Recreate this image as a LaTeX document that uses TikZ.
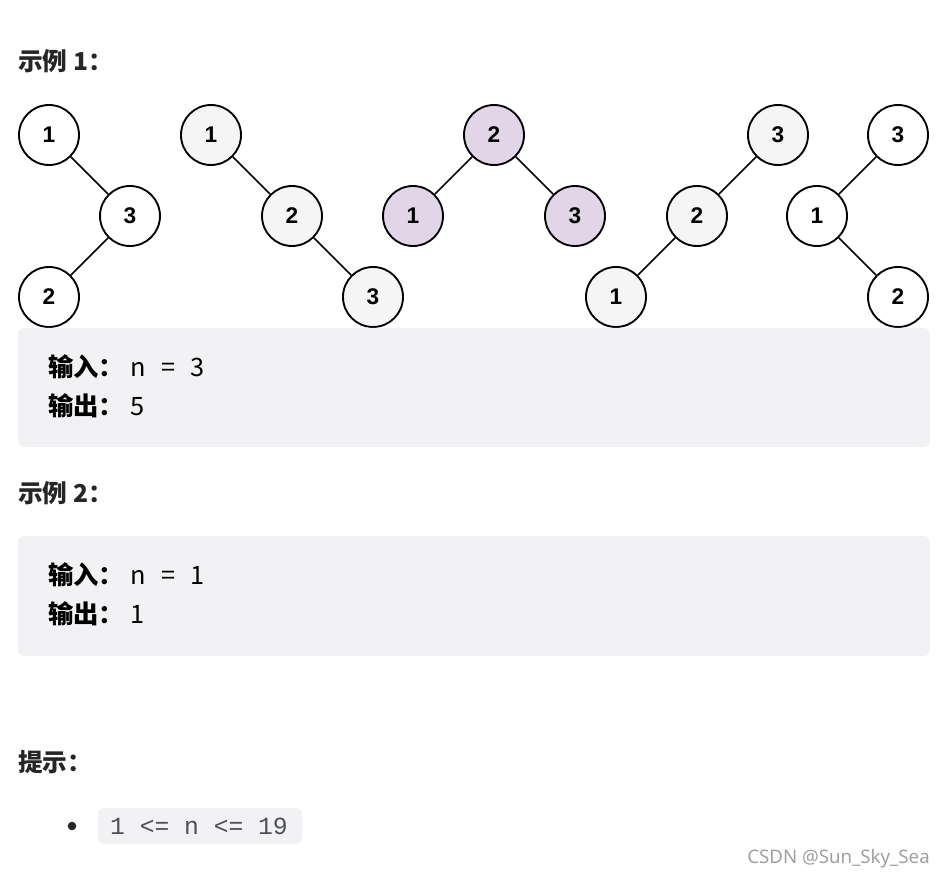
\documentclass[tikz,border=0pt]{standalone}
\usepackage{fontspec}
\setmainfont{Noto Sans CJK SC}
\newfontfamily\numfont{Liberation Sans}
\newfontfamily\codefont{Liberation Mono}
\newfontfamily\markfont{Noto Sans}
\usetikzlibrary{positioning}
\definecolor{textdark}{RGB}{38, 38, 38}
\definecolor{codebg}{RGB}{242, 242, 244}
\definecolor{nodegray}{RGB}{245, 245, 245}
\definecolor{nodepurple}{RGB}{225, 213, 231}
\definecolor{codegray}{RGB}{75, 80, 88}
\definecolor{markgray}{RGB}{160, 160, 160}

\begin{document}
\begin{tikzpicture}[x=0.75pt, y=-0.75pt,
  tnode/.style={circle, draw=black, line width=1.4pt, minimum size=45pt, inner sep=0pt,
    font=\numfont\bfseries\fontsize{17}{17}\selectfont},
  tedge/.style={line width=1.2pt},
  title/.style={anchor=west, inner sep=0pt, text=textdark, font=\bfseries\fontsize{18.5}{20}\selectfont},
  line/.style={anchor=west, inner sep=0pt, text=black, font=\fontsize{19}{20}\selectfont}]
  \useasboundingbox[fill=white] (0,0) rectangle (946,880);

  % 示例 1
  \node[title] (t1) at (18,61) {示例 1：};

  % 树 1
  \node[tnode, fill=white] (a1) at (49,135) {1};
  \node[tnode, fill=white] (a3) at (130,216) {3};
  \node[tnode, fill=white] (a2) at (49,297) {2};
  \draw[tedge] (a1) -- (a3);
  \draw[tedge] (a3) -- (a2);

  % 树 2
  \node[tnode, fill=nodegray] (b1) at (211,135) {1};
  \node[tnode, fill=nodegray] (b2) at (292,216) {2};
  \node[tnode, fill=nodegray] (b3) at (373,297) {3};
  \draw[tedge] (b1) -- (b2);
  \draw[tedge] (b2) -- (b3);

  % 树 3
  \node[tnode, fill=nodepurple] (c2) at (494,135) {2};
  \node[tnode, fill=nodepurple] (c1) at (413,216) {1};
  \node[tnode, fill=nodepurple] (c3) at (575,216) {3};
  \draw[tedge] (c2) -- (c1);
  \draw[tedge] (c2) -- (c3);

  % 树 4
  \node[tnode, fill=nodegray] (d3) at (778,135) {3};
  \node[tnode, fill=nodegray] (d2) at (697,216) {2};
  \node[tnode, fill=nodegray] (d1) at (616,297) {1};
  \draw[tedge] (d3) -- (d2);
  \draw[tedge] (d2) -- (d1);

  % 树 5
  \node[tnode, fill=white] (e3) at (898,135) {3};
  \node[tnode, fill=white] (e1) at (817,216) {1};
  \node[tnode, fill=white] (e2) at (898,297) {2};
  \draw[tedge] (e3) -- (e1);
  \draw[tedge] (e1) -- (e2);

  % 输入输出 1
  \fill[codebg, rounded corners=5pt] (18,328) rectangle (930,447);
  \node[line] (in1) at (48,367) {\textbf{输入：}\hspace{0.25em}n\hspace{0.6em}=\hspace{0.6em}3};
  \node[line] (out1) at (48,406) {\textbf{输出：}\hspace{0.25em}5};

  % 示例 2
  \node[title] (t2) at (18,493) {示例 2：};
  \fill[codebg, rounded corners=5pt] (18,536) rectangle (930,656);
  \node[line] (in2) at (48,575) {\textbf{输入：}\hspace{0.25em}n\hspace{0.6em}=\hspace{0.6em}1};
  \node[line] (out2) at (48,614) {\textbf{输出：}\hspace{0.25em}1};

  % 提示
  \node[title] (t3) at (18,762) {提示：};
  \fill[textdark] (72,826) circle (3.2pt);
  \fill[codebg, rounded corners=4pt] (98,808) rectangle (302,844);
  \node[inner sep=0pt, text=codegray, font=\codefont\fontsize{18.5}{20}\selectfont] (code) at (199,826) {1 <= n <= 19};

  \node[anchor=east, inner sep=0pt, text=markgray, font=\markfont\fontsize{14}{15}\selectfont] (mark) at (930,859) {CSDN @Sun\_Sky\_Sea};
\end{tikzpicture}
\end{document}
